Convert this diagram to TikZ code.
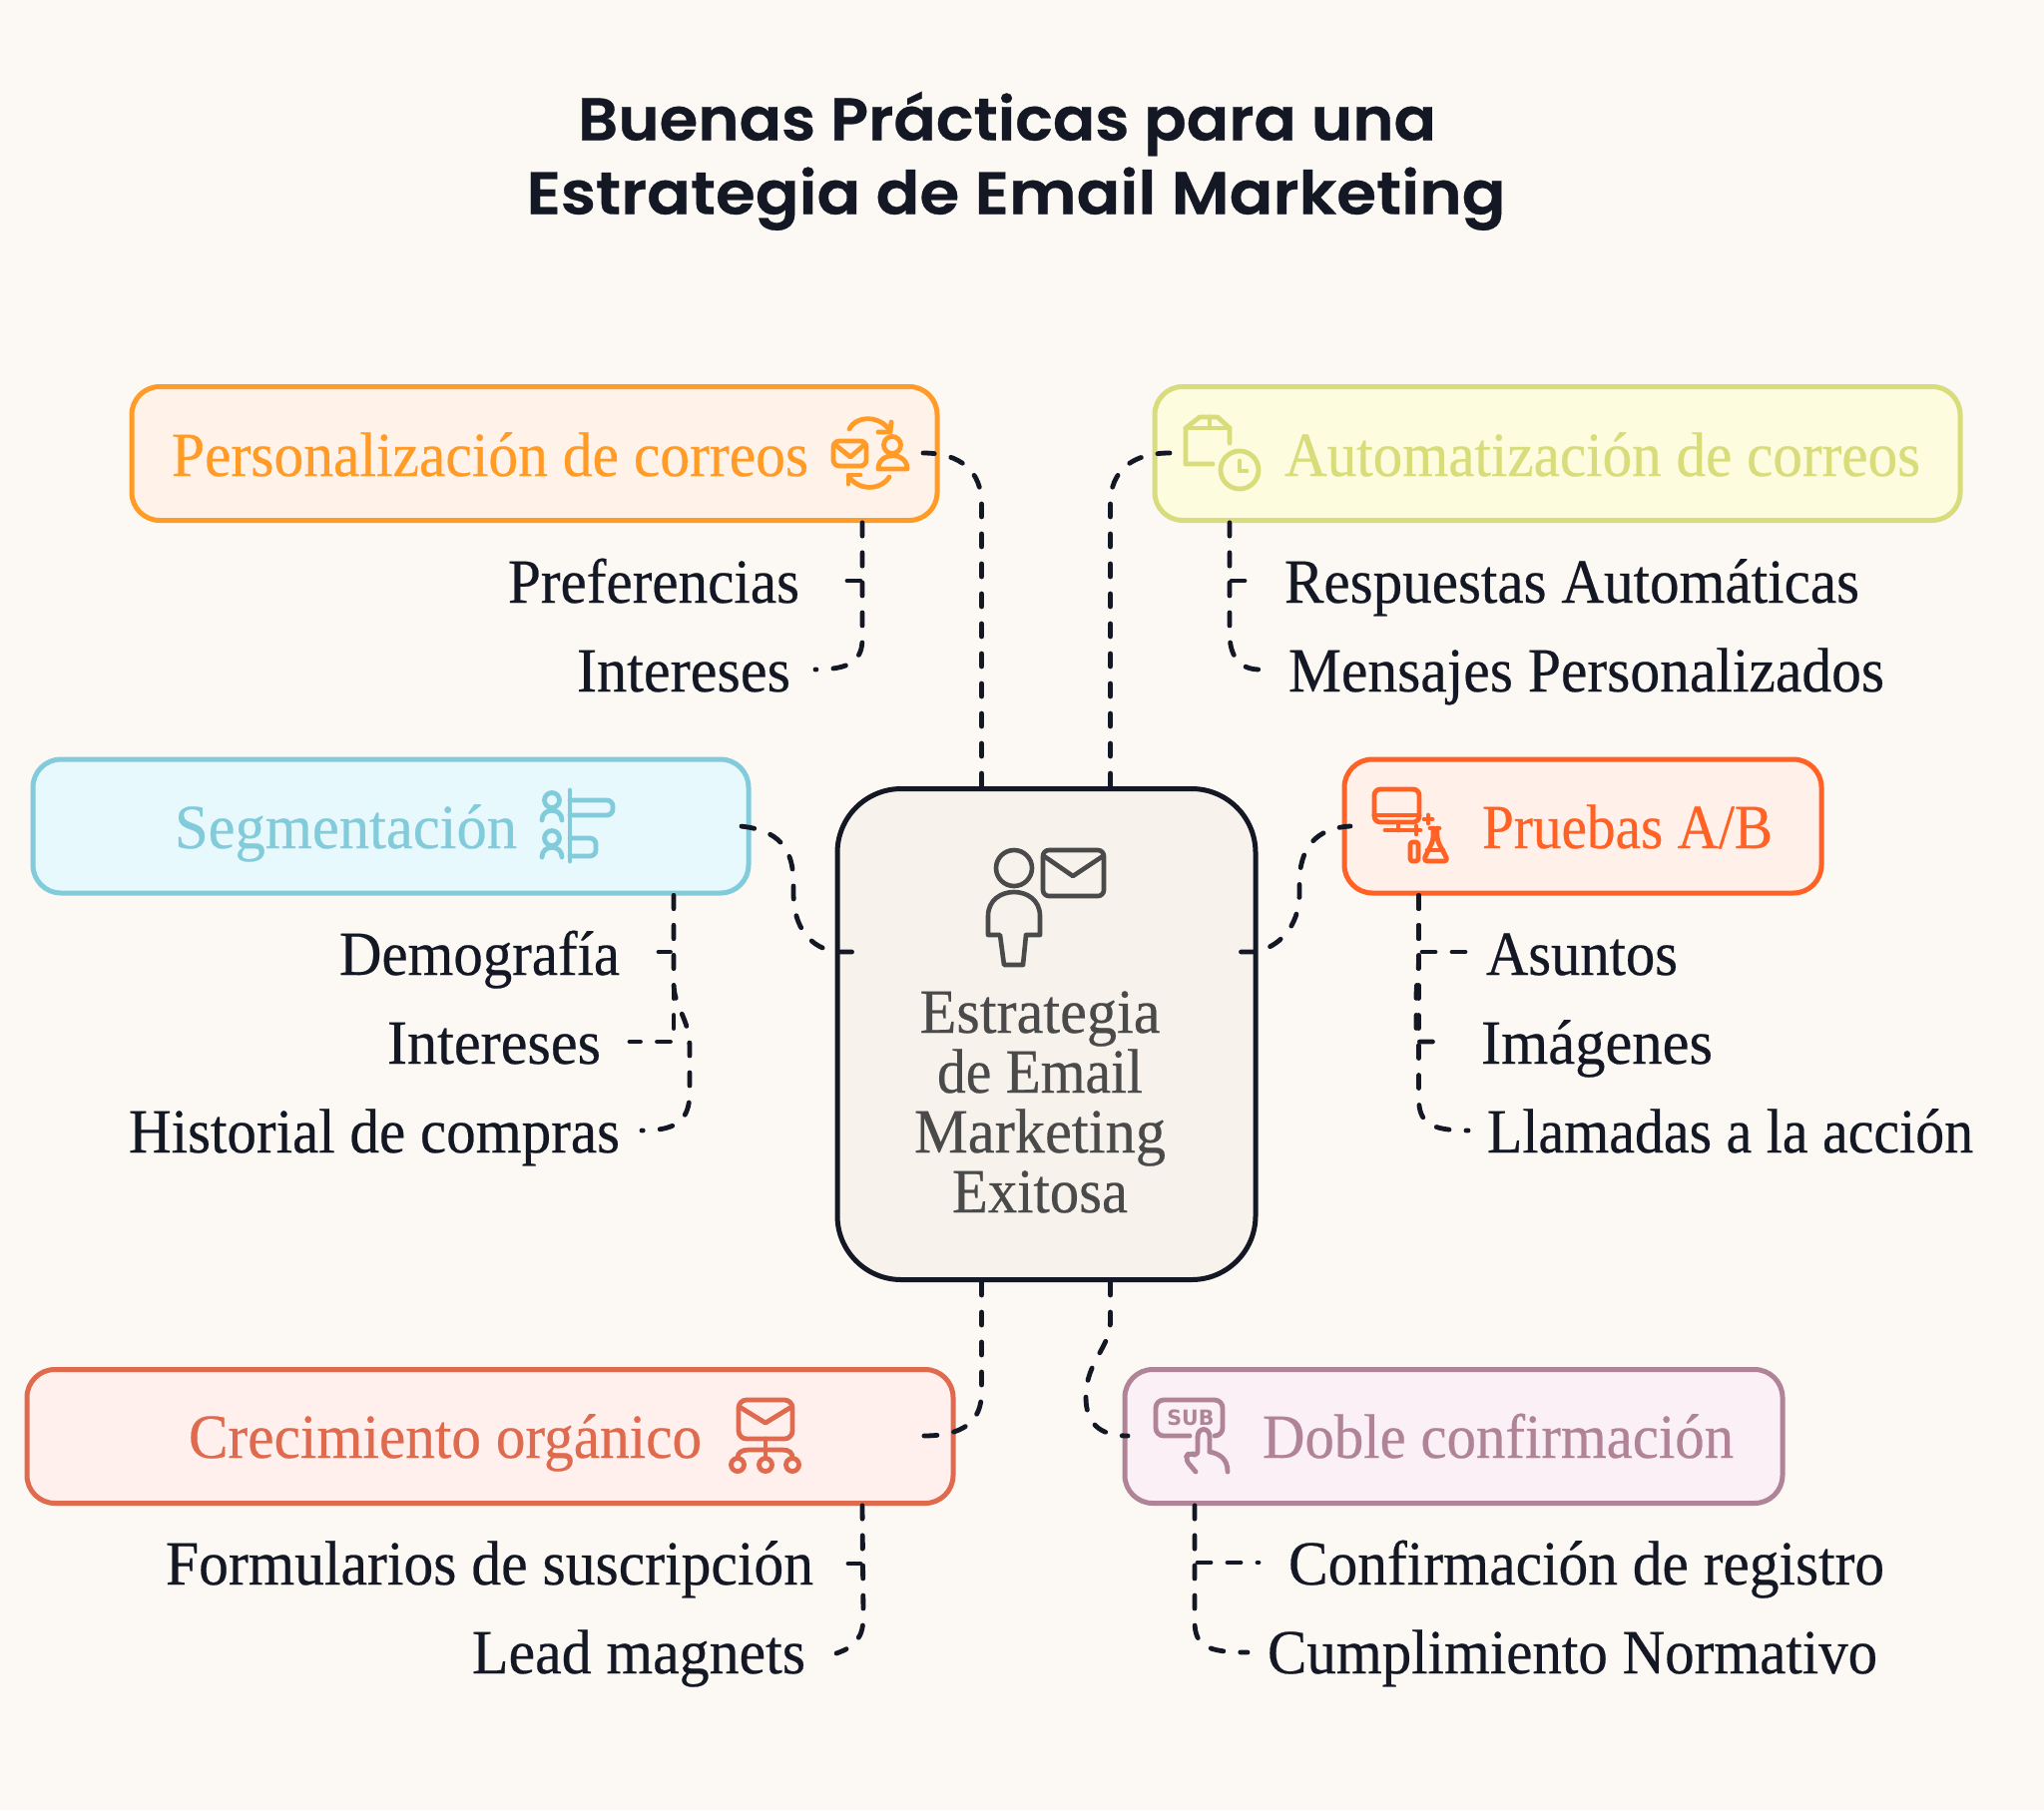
\documentclass[tikz,border=0pt]{standalone}
\usepackage{fontspec}
\usepackage{graphicx}
\setmainfont[FakeBold=0.4]{Liberation Serif}
\newfontfamily\titlefont[FakeBold=0.5]{Poppins SemiBold}
\newfontfamily\subfont{DejaVu Sans}
\newdimen\pxu \pxu=0.5pt
\newcommand{\fw}[2]{\resizebox{#1\pxu}{\height}{#2}}
\definecolor{bgc}{HTML}{FCF9F4}
\definecolor{ink}{HTML}{141824}
\definecolor{grayc}{HTML}{4A4A4A}
\definecolor{orS}{HTML}{FF9B26}\definecolor{orF}{HTML}{FFF2E8}
\definecolor{yeS}{HTML}{D9DC7A}\definecolor{yeF}{HTML}{FDFCDE}
\definecolor{blS}{HTML}{82CBDB}\definecolor{blF}{HTML}{E8F9FD}
\definecolor{reS}{HTML}{FF6224}\definecolor{reF}{HTML}{FFF0E9}
\definecolor{crS}{HTML}{E06A4E}\definecolor{crF}{HTML}{FFF0EE}
\definecolor{puS}{HTML}{B08496}\definecolor{puF}{HTML}{FAF0F5}
\definecolor{ctF}{HTML}{F7F2EC}
\tikzset{
  box/.style={draw,rectangle,line width=2.5pt,rounded corners=14pt,inner sep=0pt},
  lab/.style={inner sep=0pt,outer sep=0pt,text=ink,font=\fontsize{31.5}{36}\selectfont},
  head/.style={lab,anchor=base west},
  lw/.style={lab,anchor=base west},
  conn/.style={draw=ink,line width=2.4pt,line cap=round,dash pattern=on 6.5pt off 8.5pt},
  ico/.style={line width=2.4pt,line cap=round,line join=round},
}
\begin{document}
\begin{tikzpicture}[x=0.5pt,y=-0.5pt]
\useasboundingbox (0,0) rectangle (2048,1814);
\fill[bgc] (0,0) rectangle (2048,1814);
% title
\node[anchor=base,inner sep=0pt,text=ink,align=center,font=\titlefont\fontsize{30}{37}\selectfont] (title) at (1013.5,214.5) {\fw{860}{Buenas Prácticas para una}\hspace*{9\pxu}\\\hspace*{9\pxu}\fw{981}{Estrategia de Email Marketing}};
% boxes
\node[box,draw=orS,fill=orF,minimum width=403.5pt,minimum height=67pt] (pers) at (535.5,454.5) {};
\node[box,draw=yeS,fill=yeF,minimum width=403.5pt,minimum height=67pt] (auto) at (1560.5,454.5) {};
\node[box,draw=blS,fill=blF,minimum width=358.5pt,minimum height=67pt] (seg) at (391.5,828) {};
\node[box,draw=reS,fill=reF,minimum width=239pt,minimum height=67pt] (prue) at (1586,828) {};
\node[box,draw=crS,fill=crF,minimum width=464pt,minimum height=67pt] (crec) at (491,1439.5) {};
\node[box,draw=puS,fill=puF,minimum width=329.5pt,minimum height=67pt] (dobl) at (1456.5,1439.5) {};
\node[box,draw=ink,fill=ctF,minimum width=209.5pt,minimum height=246pt,rounded corners=32pt] (ctr) at (1048.5,1036.5) {};
% guide coordinates
\coordinate (g1) at (983.5,454);
\coordinate (g2) at (1112.5,454);
\coordinate (y3) at (0,954);
\coordinate (g5) at (983.5,1439);
\coordinate (g6) at (1112.5,1439);
\coordinate (pv) at (864,0);
\coordinate (av) at (1232,0);
\coordinate (sv) at (675,0);
\coordinate (rv) at (1421.5,0);
\coordinate (cv) at (864,0);
\coordinate (dv) at (1197,0);
% centre connectors
\draw[conn] (ctr.north -| g1) -- (983.5,505) .. controls (983.5,472) and (962,454) .. (925,454);
\draw[conn] (ctr.north -| g2) -- (1112.5,505) .. controls (1112.5,472) and (1134,454) .. (1172,454);
\draw[conn] ([xshift=8.5pt]ctr.west |- y3) -- (838,954) .. controls (812,950) and (795,930) .. (795,895) -- (795,885) .. controls (795,850) and (780,832) .. (742,828);
\draw[conn] ([xshift=-8.5pt]ctr.east |- y3) -- (1257,954) .. controls (1280,950) and (1302,930) .. (1302,895) -- (1302,885) .. controls (1302,850) and (1318,830) .. (1353,828);
\draw[conn] (ctr.south -| g5) -- (983.5,1395) .. controls (983.5,1425) and (965,1439) .. (925,1439);
\draw[conn] (ctr.south -| g6) -- (1112.5,1325) .. controls (1112.5,1350) and (1088,1365) .. (1088,1400) .. controls (1088,1425) and (1100,1439) .. (1130,1439);
% child connectors
\draw[conn] (pers.south -| pv) -- (864,640) .. controls (864,662) and (852,671) .. (817,671);
\draw[conn] (pers.south -| pv) -- (864,582) -- (848,582);
\draw[conn] (auto.south -| av) -- (1232,635) .. controls (1232,655) and (1240,671) .. (1262,671);
\draw[conn] (auto.south -| av) -- (1232,582) -- (1248,582);
\draw[conn] (seg.south -| sv) -- (675,954) -- (660,954);
\draw[conn] (seg.south -| sv) -- (675,1044) -- (631,1044);
\draw[conn] (seg.south -| sv) -- (675,985) .. controls (675,1010) and (691,1020) .. (691,1050) -- (691,1095) .. controls (691,1125) and (675,1133) .. (643,1133);
\draw[conn] (prue.south -| rv) -- (1421.5,954) -- (1468,954);
\draw[conn] (prue.south -| rv) -- (1421.5,960) .. controls (1421.5,975) and (1419,985) .. (1419,1000) -- (1419,1044) -- (1451,1044);
\draw[conn] (prue.south -| rv) -- (1421.5,1100) .. controls (1421.5,1125) and (1432,1133) .. (1471,1133);
\draw[conn] (crec.south -| cv) -- (864,1567) -- (850,1567);
\draw[conn] (crec.south -| cv) -- (865,1620) .. controls (865,1640) and (858,1650) .. (838,1657);
\draw[conn] (dobl.south -| dv) -- (1197,1566) -- (1261,1566);
\draw[conn] (dobl.south -| dv) -- (1197,1625) .. controls (1197,1650) and (1210,1656) .. (1250,1656);
% headings
\node[head,text=orS] (tpers) at (172,477) {\fw{638}{Personalización de correos}};
\node[head,text=yeS] (tauto) at (1287,477) {\fw{637}{Automatización de correos}};
\node[head,text=blS] (tseg) at (175,850) {\fw{343}{Segmentación}};
\node[head,text=reS] (tprue) at (1485,850) {\fw{291}{Pruebas A/B}};
\node[head,text=crS] (tcrec) at (189,1461) {\fw{514}{Crecimiento orgánico}};
\node[head,text=puS] (tdobl) at (1265,1461) {\fw{472}{Doble confirmación}};
% leaves
\node[lw] (l1) at (509,604) {\fw{292}{Preferencias}};
\node[lw] (l2) at (578,693) {\fw{214}{Intereses}};
\node[lw] (l3) at (1287,604) {\fw{576}{Respuestas Automáticas}};
\node[lw] (l4) at (1291,693) {\fw{597}{Mensajes Personalizados}};
\node[lw] (l5) at (340,977) {\fw{281}{Demografía}};
\node[lw] (l6) at (388,1066) {\fw{214}{Intereses}};
\node[lw] (l7) at (129,1155) {\fw{492}{Historial de compras}};
\node[lw] (l8) at (1489,977) {\fw{192}{Asuntos}};
\node[lw] (l9) at (1484,1066) {\fw{232}{Imágenes}};
\node[lw] (l10) at (1490,1155) {\fw{487}{Llamadas a la acción}};
\node[lw] (l11) at (166,1588) {\fw{649}{Formularios de suscripción}};
\node[lw] (l12) at (473,1677) {\fw{334}{Lead magnets}};
\node[lw] (l13) at (1291,1588) {\fw{597}{Confirmación de registro}};
\node[lw] (l14) at (1270,1677) {\fw{611}{Cumplimiento Normativo}};
% centre text
\node[lab,text=grayc,align=center,anchor=base,font=\fontsize{31.5}{30}\selectfont] (tctr) at (1042,1215) {\fw{241}{Estrategia}\\\fw{206}{de Email}\\\fw{252}{Marketing}\\\fw{176}{Exitosa}};
% icon: personalization
\begin{scope}[ico,draw=orS]
\draw[rounded corners=3pt] (835,442) rectangle (868,467);
\draw (836,445) -- (852,458) -- (867,445);
\draw (894,446) circle (8.5);
\draw (880,470) .. controls (880,452) and (909,452) .. (909,470) -- cycle;
\draw (851,430) .. controls (858,416) and (882,416) .. (892,432);
\draw (880,433) -- (892,433) -- (893,423);
\draw (891,478) .. controls (882,492) and (860,492) .. (850,477);
\draw (862,476) -- (850,476) -- (850,485);
\end{scope}
% icon: automation
\begin{scope}[ico,draw=yeS]
\draw (1232,444) -- (1232,429) -- (1220,418) -- (1202,418) -- (1188,429) -- (1188,465) -- (1215,465);
\draw (1188,429) -- (1232,429);
\draw (1212,418) -- (1212,429);
\draw (1242,471) circle (19);
\draw (1242,462) -- (1242,472) -- (1249,472);
\end{scope}
% icon: segmentation
\begin{scope}[ico,draw=blS]
\draw (571,792) -- (571,863);
\draw[rounded corners=3pt] (571,802) -- (614,802) -- (614,817) -- (571,817);
\draw[rounded corners=3pt] (571,840) -- (597,840) -- (597,858) -- (571,858);
\draw (553,802) circle (7.5);
\draw (543,822) .. controls (543,809) and (563,809) .. (563,822);
\draw (553,840) circle (7.5);
\draw (543,859) .. controls (543,846) and (563,846) .. (563,859);
\end{scope}
% icon: A/B tests
\begin{scope}[ico,draw=reS]
\draw[rounded corners=3pt] (1377,791) rectangle (1422,824);
\draw (1377,817) -- (1422,817);
\draw (1401,825) -- (1401,832);
\draw (1388,832) -- (1412,832);
\draw (1431,817) -- (1431,825) (1427,821) -- (1435,821);
\draw (1419,828) -- (1419,836) (1415,832) -- (1423,832);
\draw[rounded corners=1.2pt] (1413,844) -- (1413,863) -- (1421,863) -- (1421,844) -- cycle;
\draw (1433,830) -- (1442,830);
\draw[rounded corners=2pt] (1436,830) -- (1436,842) -- (1426,863) -- (1451,863) -- (1440,842) -- (1440,830);
\draw (1430,852) -- (1446,852);
\end{scope}
% icon: centre
\begin{scope}[ico,draw=grayc,line width=2.3pt]
\draw (1016,870) circle (18);
\draw (990,937) -- (990,918) .. controls (990,886) and (1042,886) .. (1042,918) -- (1042,937) -- (1028,937) -- (1025,967) -- (1006,967) -- (1002,937) -- cycle;
\draw[rounded corners=3pt] (1045,852) rectangle (1106,898);
\draw (1046,858) -- (1075,878) -- (1105,858);
\end{scope}
% icon: growth
\begin{scope}[ico,draw=crS]
\draw[rounded corners=4pt] (740,1403) rectangle (794,1442);
\draw (741,1410) -- (767,1426) -- (793,1410);
\draw (767,1442) -- (767,1461);
\draw (739,1461) .. controls (739,1456) and (743,1453) .. (750,1453) -- (784,1453) .. controls (791,1453) and (794,1456) .. (794,1461);
\draw (739,1468) circle (6.5);
\draw (767,1468) circle (6.5);
\draw (794,1468) circle (6.5);
\end{scope}
% icon: double opt-in
\begin{scope}[ico,draw=puS]
\draw[rounded corners=4pt] (1192,1439) -- (1158,1439) -- (1158,1403) -- (1225,1403) -- (1225,1439) -- (1218,1439);
\draw[rounded corners=3pt] (1198,1475) -- (1187,1462) -- (1192,1455) -- (1200,1460) -- (1200,1440);
\draw (1200,1440) .. controls (1200,1430) and (1212,1430) .. (1212,1440) -- (1212,1455);
\draw (1212,1455) .. controls (1222,1457) and (1230,1462) .. (1230,1475);
\end{scope}
\node[inner sep=0pt,anchor=base west,text=puS,font=\subfont\bfseries\fontsize{10.5}{12}\selectfont] (sub) at (1169,1428) {\fw{47}{SUB}};
\end{tikzpicture}
\end{document}
